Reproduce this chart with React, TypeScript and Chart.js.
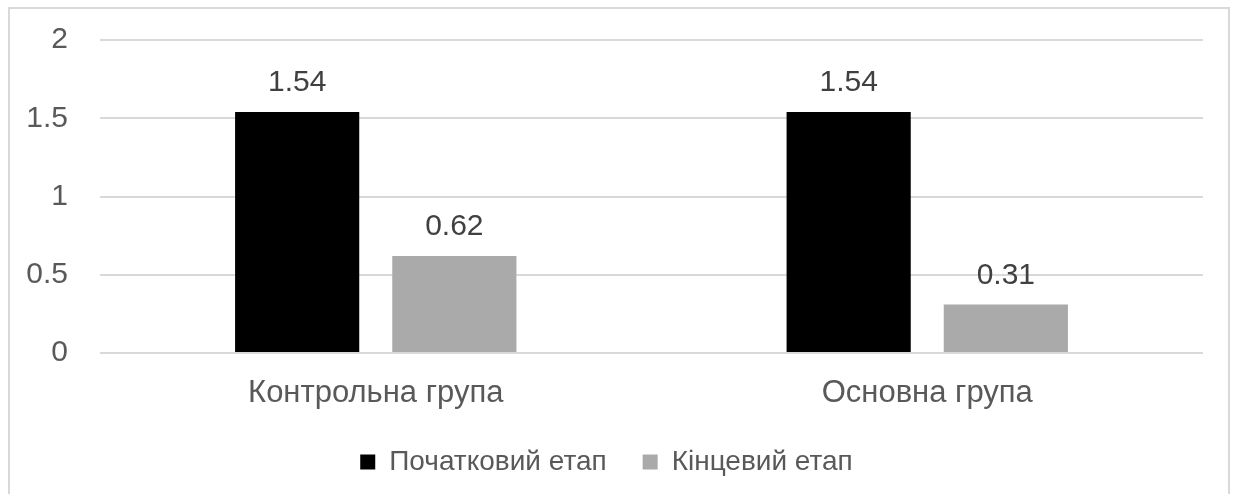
import React, { useEffect, useRef } from "react";
import { Chart, registerables } from "chart.js";

Chart.register(...registerables);

const categories = ["Контрольна група", "Основна група"];
const seriesNames = ["Початковий етап", "Кінцевий етап"];
const initialValues = [1.54, 1.54];
const finalValues = [0.62, 0.31];
const seriesColors = ["#000000", "#aaaaaa"];
const yTicks = [0, 0.5, 1, 1.5, 2];

const FONT = "'Liberation Sans', Arial, sans-serif";

const valueLabels = {
  id: "valueLabels",
  afterDatasetsDraw(chart: any) {
    const ctx = chart.ctx;
    ctx.save();
    ctx.font = `30px ${FONT}`;
    ctx.fillStyle = "#404040";
    ctx.textAlign = "center";
    ctx.textBaseline = "middle";
    chart.data.datasets.forEach((ds: any, di: number) => {
      const meta = chart.getDatasetMeta(di);
      meta.data.forEach((el: any, i: number) => {
        ctx.fillText(String(ds.data[i]), el.x, el.y - 29);
      });
    });
    ctx.restore();
  },
};

export default function App() {
  const ref = useRef<HTMLCanvasElement>(null);
  useEffect(() => {
    if (!ref.current) return;
    const chart = new Chart(ref.current, {
      type: "bar",
      data: {
        labels: categories,
        datasets: [
          {
            label: seriesNames[0],
            data: initialValues,
            backgroundColor: seriesColors[0],
            borderWidth: 0,
            categoryPercentage: 0.57,
            barPercentage: 0.79,
          },
          {
            label: seriesNames[1],
            data: finalValues,
            backgroundColor: seriesColors[1],
            borderWidth: 0,
            categoryPercentage: 0.57,
            barPercentage: 0.79,
          },
        ],
      },
      options: {
        animation: false,
        responsive: false,
        maintainAspectRatio: false,
        layout: { padding: { top: 31, right: 25, left: 0, bottom: 0 } },
        plugins: {
          tooltip: { enabled: false },
          legend: {
            position: "bottom",
            labels: {
              boxWidth: 15,
              boxHeight: 15,
              padding: 36,
              color: "#595959",
              font: { size: 28, family: FONT },
            },
          },
        },
        scales: {
          x: {
            grid: { display: false, drawTicks: false },
            border: { display: false },
            ticks: {
              color: "#595959",
              font: { size: 31, family: FONT },
              padding: 22,
              maxRotation: 0,
            },
            afterFit: (s: any) => {
              s.height = 59;
            },
          },
          y: {
            min: 0,
            max: 2,
            border: { display: false },
            grid: {
              color: "#d9d9d9",
              lineWidth: 2,
              drawTicks: true,
              tickLength: 32,
              tickColor: "rgba(0,0,0,0)",
            },
            afterBuildTicks: (s: any) => {
              s.ticks = yTicks.map((v) => ({ value: v }));
            },
            ticks: {
              color: "#595959",
              font: { size: 30, family: FONT },
              padding: 0,
              callback: (v: any) => String(v),
            },
            afterFit: (s: any) => {
              s.width = 90;
            },
          },
        },
      },
      plugins: [valueLabels],
    });
    return () => chart.destroy();
  }, []);

  return (
    <div
      style={{
        position: "fixed",
        left: 8,
        top: 7,
        width: 1222,
        height: 520,
        border: "2px solid #d9d9d9",
        boxSizing: "border-box",
        background: "#fff",
      }}
    >
      <canvas ref={ref} width={1218} height={477} style={{ display: "block" }} />
    </div>
  );
}
